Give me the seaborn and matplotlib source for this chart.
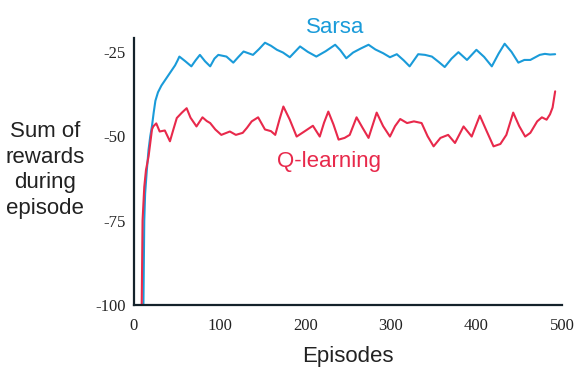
import matplotlib
matplotlib.use("Agg")
import matplotlib.pyplot as plt
import seaborn as sns
import pandas as pd

sarsa_ep = [11, 12, 13, 15, 17, 19, 21, 23, 25, 28, 32, 36, 40, 44, 48, 51, 53, 60, 67, 72, 77, 83, 89, 94,
            98.5, 108, 116, 122, 128, 139, 146, 153, 160, 167, 174, 182, 188, 194, 203, 213, 224, 235, 241,
            248, 256, 265, 274, 282, 291, 299, 307, 315, 322, 332, 340, 348, 356, 363, 371, 379, 389, 400,
            409, 418, 426, 433, 441, 449, 456, 463, 474, 480, 486, 492]
sarsa_val = [-100, -75, -67, -60, -54, -50, -47, -43, -39.5, -37, -35, -33.5, -32, -30.5, -29, -27.5, -26.4,
             -27.8, -29.3, -27.5, -25.9, -27.8, -29.3, -27.0, -25.9, -26.4, -28.2, -26.5, -24.9, -25.9, -24.2,
             -22.3, -23.2, -24.4, -25.2, -26.6, -25.0, -23.4, -25.0, -26.4, -24.8, -22.9, -24.5, -26.9, -25.2,
             -24.0, -22.9, -24.3, -25.4, -26.6, -25.7, -27.5, -29.3, -25.7, -25.9, -26.4, -28.0, -29.5, -27.0,
             -25.1, -27.4, -24.4, -26.5, -29.3, -25.5, -22.6, -25.0, -28.2, -27.4, -27.4, -25.9, -25.6, -25.8,
             -25.7]

q_ep = [9, 10, 12, 14, 17, 19, 21, 22.5, 26, 30, 36, 42, 46, 50, 56, 61.5, 66, 73, 80, 85, 89, 95, 102, 112,
        119, 127, 132, 137.5, 145, 153, 160, 165, 170, 174.5, 182, 190, 199, 209, 217, 222, 227, 233, 239,
        246, 252, 260, 267, 274, 283.5, 291, 299, 305, 311, 319, 327, 336, 343, 350, 358, 367, 375, 385,
        394.5, 404, 412, 420, 428, 435, 443, 450, 457, 463, 471, 476.5, 482, 486, 489, 492]
q_val = [-100, -75, -65, -60, -56, -52, -48, -47.1, -46.2, -48.6, -48.3, -51.5, -48.0, -44.6, -43.0, -41.7,
         -44.5, -47.1, -44.4, -45.5, -46.1, -48.0, -49.6, -48.6, -49.6, -49.0, -47.5, -45.6, -44.4, -48.0,
         -48.5, -49.6, -45.0, -41.2, -45.1, -50.1, -48.6, -46.9, -50.1, -46.0, -42.7, -46.5, -51.0, -50.5,
         -49.6, -44.4, -47.5, -50.5, -43.0, -47.0, -50.1, -47.0, -44.9, -46.1, -45.6, -46.1, -50.0, -53.0,
         -50.5, -49.6, -52.0, -47.1, -50.1, -43.9, -48.5, -53.0, -52.3, -49.6, -43.0, -47.0, -50.1, -49.0,
         -45.6, -44.4, -45.1, -43.5, -41.5, -36.7]

x_ticks = [0, 100, 200, 300, 400, 500]
y_ticks = [-100, -75, -50, -25]
y_tick_labels = ["-100", "-75", "-50", "-25"]

blue = "#1A9BD9"
red = "#E8294B"
dark = "#14222b"

sns.set_theme(style="white")
plt.rcParams["font.family"] = ["Liberation Sans", "DejaVu Sans"]

df = pd.concat([
    pd.DataFrame({"Episodes": sarsa_ep, "Reward": sarsa_val, "Method": "Sarsa"}),
    pd.DataFrame({"Episodes": q_ep, "Reward": q_val, "Method": "Q-learning"}),
])

fig = plt.figure(figsize=(5.87, 3.86), dpi=100)
ax = fig.add_axes([134 / 587, 1 - 305 / 386, (562 - 134) / 587, (305 - 38) / 386])

sns.lineplot(data=df, x="Episodes", y="Reward", hue="Method", palette={"Sarsa": blue, "Q-learning": red},
             sort=True, estimator=None, linewidth=1.5, legend=False, ax=ax)

ax.set_xlim(0, 500)
ax.set_ylim(-100, -20.9)
ax.set_xticks(x_ticks)
ax.set_yticks(y_ticks)
ax.set_yticklabels(y_tick_labels)
for lab in ax.get_xticklabels() + ax.get_yticklabels():
    lab.set_family(["Liberation Serif", "DejaVu Serif"])
    lab.set_fontsize(12)
    lab.set_color("#222222")

sns.despine(ax=ax)
for s in ["left", "bottom"]:
    ax.spines[s].set_color(dark)
    ax.spines[s].set_linewidth(1.6)
ax.tick_params(axis="x", direction="out", length=5, width=1.2, color=dark, pad=4)
ax.tick_params(axis="y", direction="out", length=5, width=1.2, color=dark, pad=1)

ax.set_xlabel("Episodes", fontsize=16, color="#222222", labelpad=9)
ax.set_ylabel("")
fig.text(45 / 587, 1 - 170 / 386, "Sum of\nrewards\nduring\nepisode", ha="center", va="center",
         fontsize=16, color="#222222", linespacing=1.3)

ax.text(234.8, -19.4, "Sarsa", color=blue, fontsize=16, ha="center", va="baseline", clip_on=False)
ax.text(227.8, -59.0, "Q-learning", color=red, fontsize=16, ha="center", va="baseline")

fig.savefig("out.png", dpi=100)
